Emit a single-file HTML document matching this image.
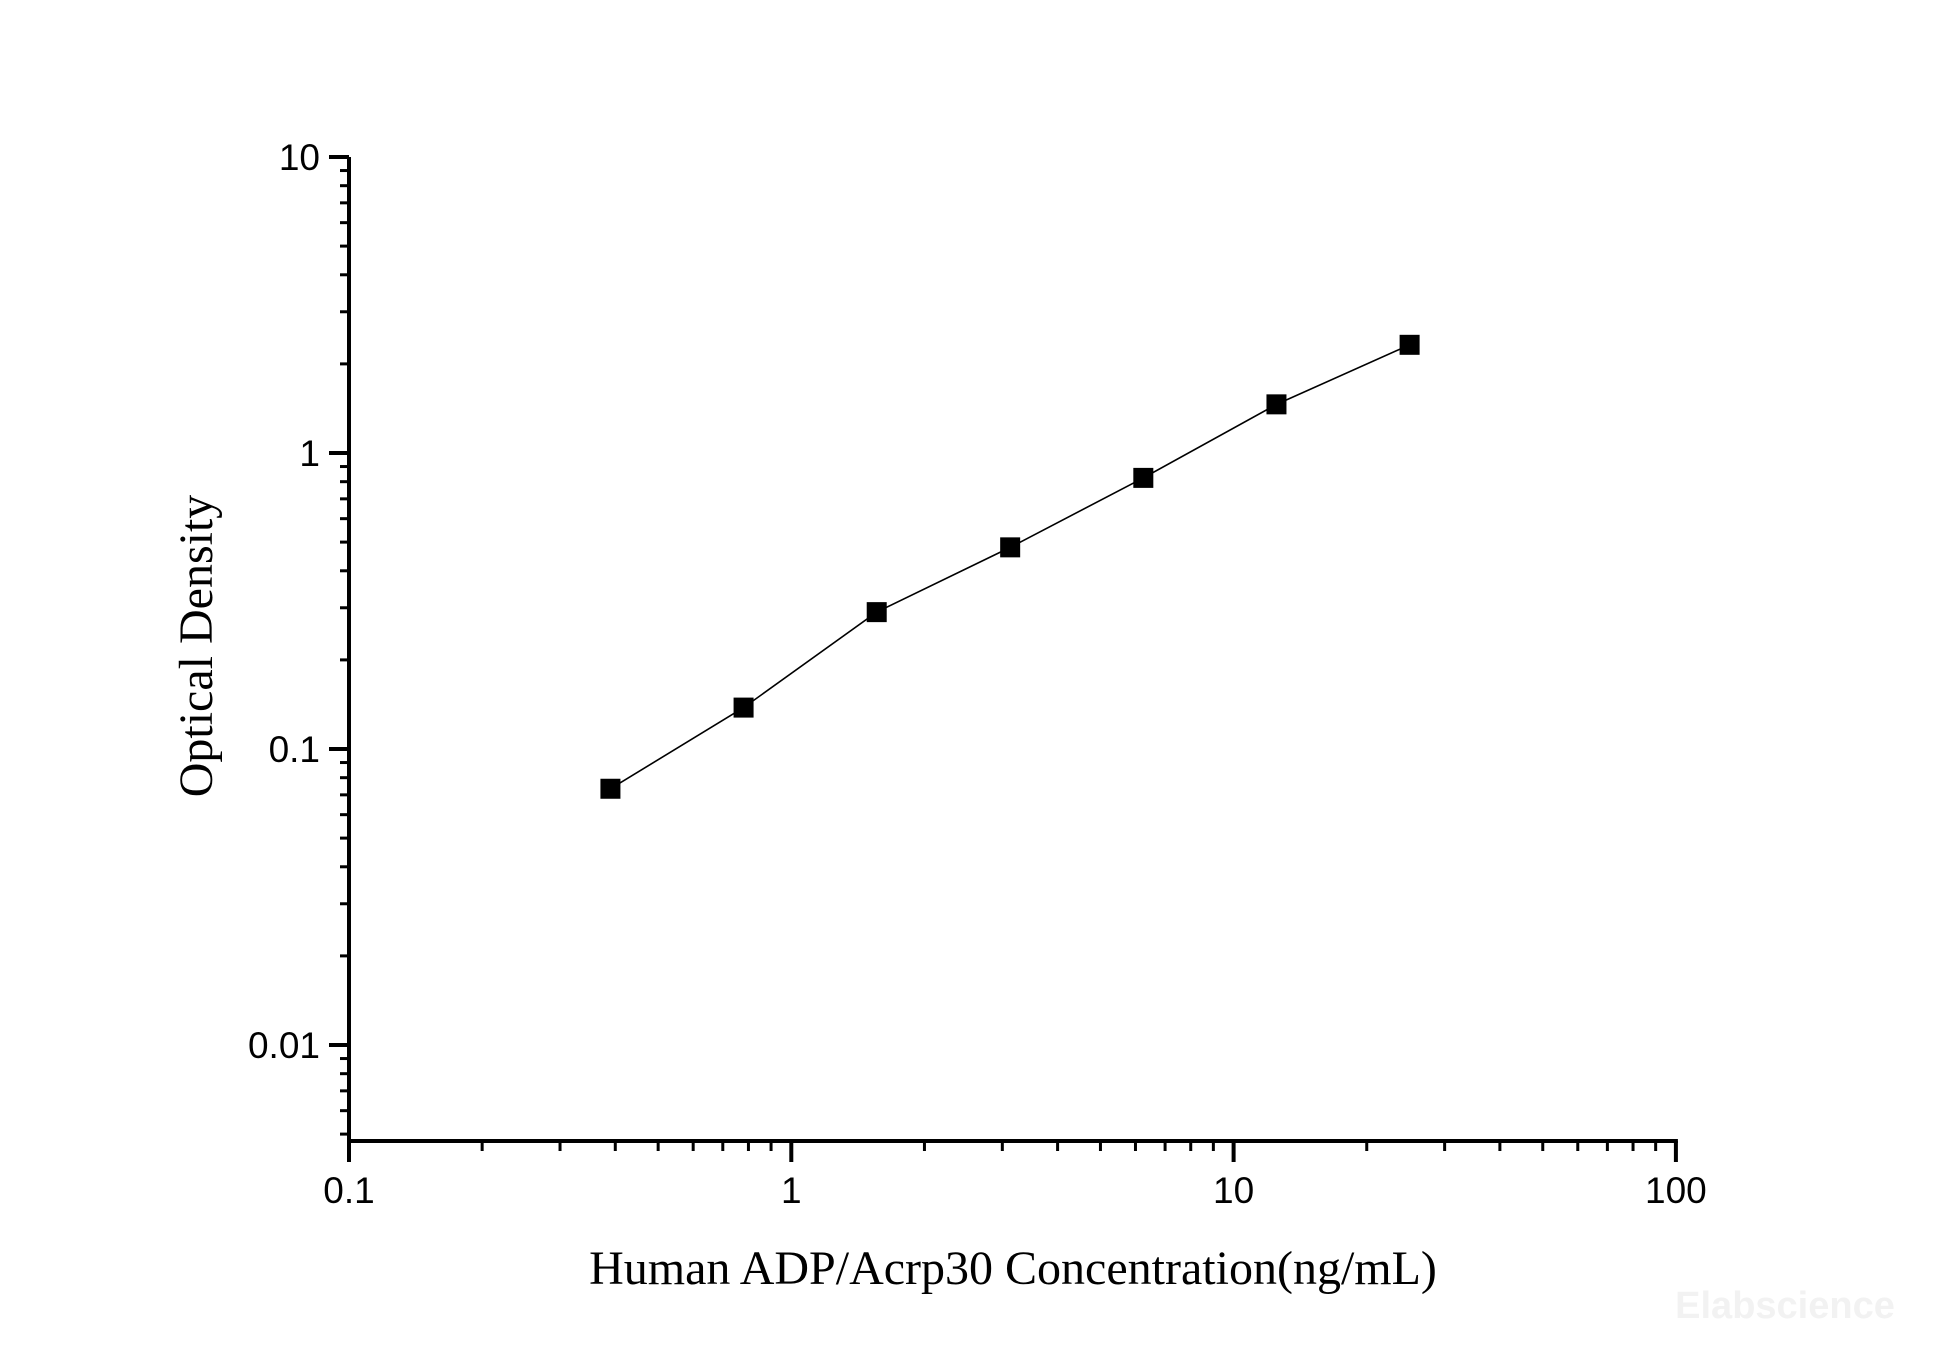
<!DOCTYPE html>
<html><head><meta charset="utf-8"><style>
html,body{margin:0;padding:0;background:#fff;}
svg{display:block;}
</style></head><body>
<svg width="1946" height="1359" viewBox="0 0 1946 1359" xmlns="http://www.w3.org/2000/svg">
<g id="axes"></g>
<g id="series"></g>
<text x="1013" y="1284" text-anchor="middle" font-family="Liberation Serif, serif" font-size="48">Human ADP/Acrp30 Concentration(ng/mL)</text>
<text transform="translate(212,646) rotate(-90)" text-anchor="middle" font-family="Liberation Serif, serif" font-size="48">Optical Density</text>
<text x="1785" y="1318" text-anchor="middle" font-family="Liberation Sans, sans-serif" font-weight="bold" font-size="38" fill="#f2f2f2">Elabscience</text>
</svg>
<script>
const xTickValues = [0.1, 1, 10, 100];
const xTickLabels = ["0.1", "1", "10", "100"];
const yTickValues = [0.01, 0.1, 1, 10];
const yTickLabels = ["0.01", "0.1", "1", "10"];
const concentrations = [0.39, 0.78, 1.56, 3.125, 6.25, 12.5, 25];
const odValues = [0.0734, 0.138, 0.290, 0.480, 0.824, 1.46, 2.32];

const NS = "http://www.w3.org/2000/svg";
const X0 = 349, XDEC = 442.3;
const Y1 = 453, YDEC = 296, YBOT = 1141;
function xs(v){ return X0 + (Math.log10(v) + 1) * XDEC; }
function ys(v){ return Y1 - Math.log10(v) * YDEC; }
function mk(tag, attrs, parent){
  const e = document.createElementNS(NS, tag);
  for (const k in attrs) e.setAttribute(k, attrs[k]);
  parent.appendChild(e);
  return e;
}
const axes = document.getElementById("axes");
const ser = document.getElementById("series");
const xR = xs(100), yT = ys(10);

let ax = mk("line", {x1:X0, y1:yT, x2:X0, y2:YBOT, stroke:"#000", "stroke-width":4}, axes);


let bx = mk("line", {x1:X0-2, y1:YBOT, x2:xR+2, y2:YBOT, stroke:"#000", "stroke-width":4}, axes);



// x ticks
for (let d = -1; d < 2; d++) {
  for (let m = 2; m <= 9; m++) {
    const x = xs(m * Math.pow(10, d));
    const t = mk("line", {x1:x, y1:YBOT, x2:x, y2:YBOT+10, stroke:"#000", "stroke-width":3}, axes);
    
    
  }
}
xTickValues.forEach((v, i) => {
  const x = xs(v);
  const t = mk("line", {x1:x, y1:YBOT, x2:x, y2:YBOT+21, stroke:"#000", "stroke-width":4}, axes);
  
  
  const l = mk("text", {x:x, y:1203, "text-anchor":"middle", "font-family":"Liberation Sans, sans-serif", "font-size":37}, axes);
  l.textContent = xTickLabels[i];
  
  
});
// y ticks
for (let d = -3; d < 1; d++) {
  for (let m = 2; m <= 9; m++) {
    const v = m * Math.pow(10, d);
    const y = ys(v);
    if (y > YBOT || y < yT) continue;
    const t = mk("line", {x1:X0-9, y1:y, x2:X0, y2:y, stroke:"#000", "stroke-width":3}, axes);
    
    
  }
}
yTickValues.forEach((v, i) => {
  const y = ys(v);
  const t = mk("line", {x1:X0-20, y1:y, x2:X0, y2:y, stroke:"#000", "stroke-width":4}, axes);
  
  
  const l = mk("text", {x:320, y:y+13, "text-anchor":"end", "font-family":"Liberation Sans, sans-serif", "font-size":37}, axes);
  l.textContent = yTickLabels[i];
  
  
});

// fit line
const pts = concentrations.map((c, i) => xs(c).toFixed(1) + "," + ys(odValues[i]).toFixed(1)).join(" ");
const pl = mk("polyline", {points:pts, fill:"none", stroke:"#000", "stroke-width":1.6}, ser);


concentrations.forEach((c, i) => {
  const r = mk("rect", {x:xs(c)-10, y:ys(odValues[i])-10, width:20, height:20, fill:"#000"}, ser);
  
  
});
</script>
</body></html>
